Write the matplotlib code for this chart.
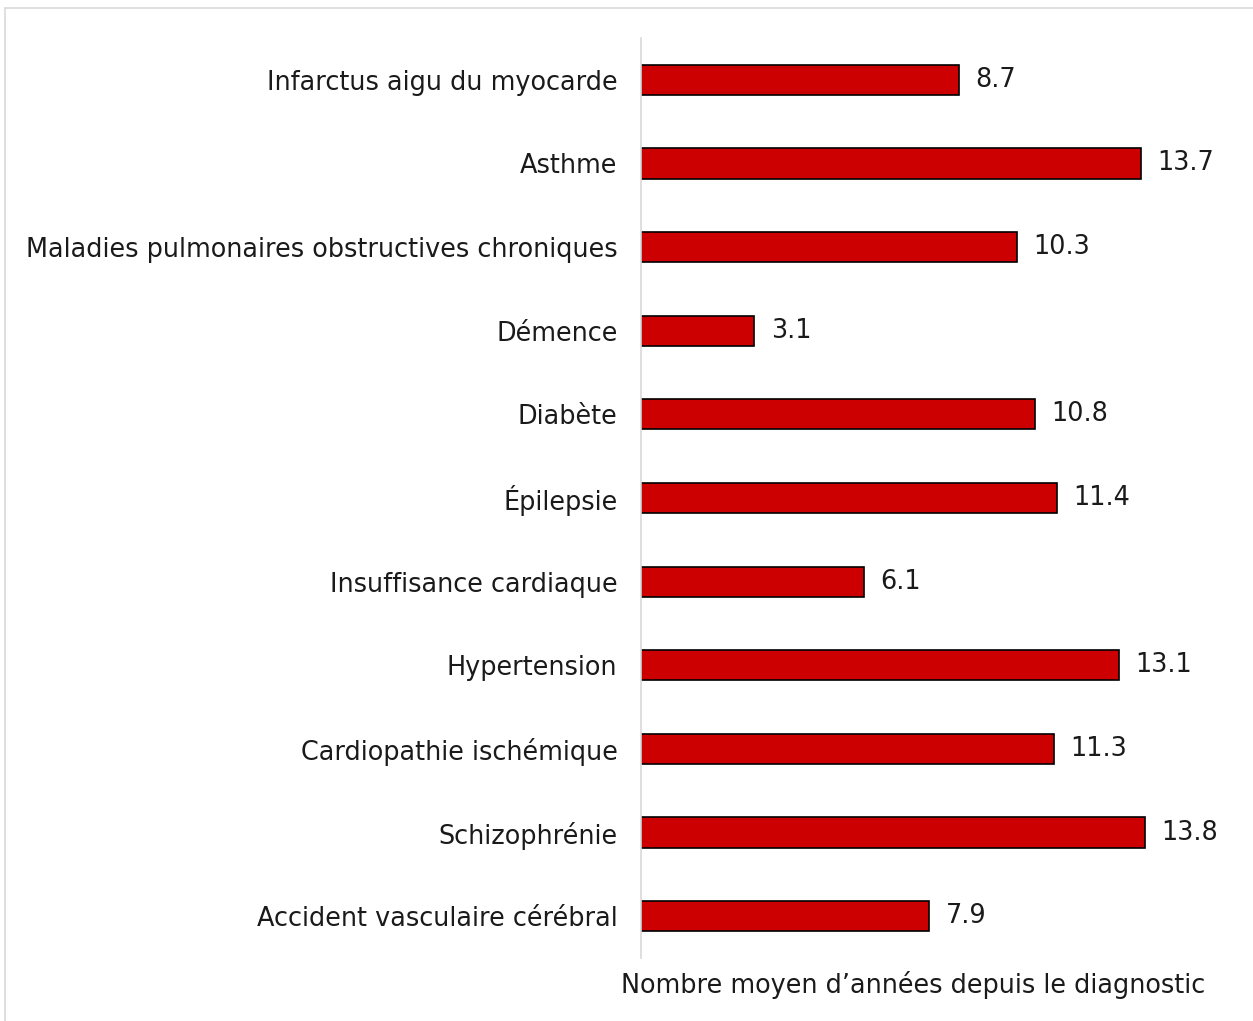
import matplotlib.pyplot as plt
from matplotlib.patches import Rectangle

# Nombre moyen d'années depuis le diagnostic, par maladie chronique
categories = [
    "Infarctus aigu du myocarde",
    "Asthme",
    "Maladies pulmonaires obstructives chroniques",
    "Démence",
    "Diabète",
    "Épilepsie",
    "Insuffisance cardiaque",
    "Hypertension",
    "Cardiopathie ischémique",
    "Schizophrénie",
    "Accident vasculaire cérébral",
]
values = [8.7, 13.7, 10.3, 3.1, 10.8, 11.4, 6.1, 13.1, 11.3, 13.8, 7.9]

plt.rcParams['font.family'] = ['DejaVu Sans']
TXT = "#1a1a1a"
FS = 18.4

W, H = 1253, 1021
fig = plt.figure(figsize=(W / 100, H / 100), dpi=100)

# thin grey frame around the chart area
fig.patches.append(Rectangle((5 / W, -0.01), 1.1, (H - 8) / H + 0.01,
                             transform=fig.transFigure, fill=False,
                             edgecolor="#d9d9d9", linewidth=1.2))

left, right = 641, 1185
top, bottom = 38, 958
ax = fig.add_axes([left / W, 1 - bottom / H, (right - left) / W, (bottom - top) / H])

y = list(range(len(categories)))
ax.barh(y, values, height=0.36, color="#cc0000", edgecolor="black", linewidth=1.2)

for yi, v in zip(y, values):
    ax.text(v + 0.45, yi, f"{v:.1f}", va="center", ha="left",
            fontsize=FS, color=TXT)

ax.set_ylim(len(categories) - 0.5, -0.5)
ax.set_xlim(0, 14.9)
ax.set_yticks(y)
ax.set_yticklabels(categories, fontsize=FS, color=TXT)
ax.tick_params(axis="y", length=0, pad=17)
ax.set_xticks([])

for s in ["top", "right", "bottom"]:
    ax.spines[s].set_visible(False)
ax.spines["left"].set_color("#d9d9d9")
ax.spines["left"].set_linewidth(1.2)

ax.set_xlabel("Nombre moyen d’années depuis le diagnostic", fontsize=FS,
              color=TXT, labelpad=9)

fig.savefig("out.png", dpi=100)
